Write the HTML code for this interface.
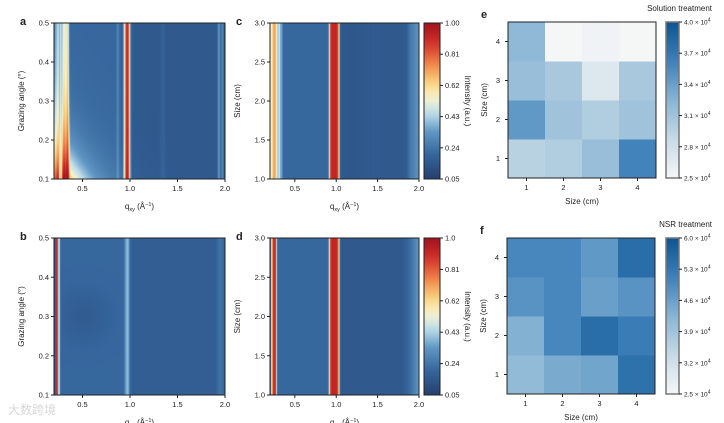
<!DOCTYPE html>
<html><head><meta charset="utf-8"><style>
body{margin:0;background:#fff;width:724px;height:423px;position:relative;overflow:hidden;font-family:"Liberation Sans","Noto Sans CJK SC",sans-serif}
canvas{position:absolute}
svg{position:absolute;left:0;top:0}
text{font-family:"Liberation Sans","Noto Sans CJK SC",sans-serif;fill:#222}
</style></head><body>
<canvas id="ca" style="left:54px;top:23px" width="171" height="156"></canvas>
<canvas id="cb" style="left:54px;top:238px" width="171" height="157"></canvas>
<canvas id="cc" style="left:270px;top:23px" width="149" height="156"></canvas>
<canvas id="cd" style="left:270px;top:238px" width="149" height="157"></canvas>
<svg id="s" width="724" height="423"></svg>
<script>
// ---- data ----
const profA_q=[0.2,0.22,0.24,0.25,0.26,0.28,0.3,0.32,0.34,0.36,0.4,0.6,0.85,0.87,0.89,0.92,0.94,0.96,0.98,1.0,1.01,1.03,1.3,1.36,1.38,1.6,1.92,1.94,1.96,1.98,2.0];
const profA_v=[0.3,0.35,0.45,0.3,0.5,0.35,0.55,0.45,0.6,0.2,0.2,0.2,0.2,0.3,0.2,0.18,0.5,0.9,0.9,0.45,0.2,0.15,0.15,0.19,0.15,0.15,0.15,0.35,0.2,0.3,0.15];
const profB_q=[0.2,0.21,0.22,0.23,0.24,0.25,0.26,0.28,0.5,0.93,0.96,0.98,1.0,1.03,1.5,1.9,1.95,2.0];
const profB_v=[0.12,0.15,0.9,0.95,0.4,0.55,0.2,0.2,0.2,0.2,0.38,0.4,0.2,0.17,0.17,0.17,0.24,0.2];
const profC_q=[0.2,0.22,0.23,0.26,0.27,0.28,0.29,0.3,0.31,0.32,0.33,0.34,0.36,0.5,0.9,0.915,0.93,0.95,1.0,1.02,1.035,1.05,1.2,1.4,1.45,1.6,1.8,1.85,1.9,2.0];
const profC_v=[0.55,0.55,0.7,0.7,0.55,0.5,0.35,0.45,0.5,0.35,0.4,0.3,0.2,0.2,0.2,0.45,0.85,0.92,0.92,0.85,0.5,0.15,0.14,0.15,0.16,0.15,0.15,0.17,0.25,0.33];
const profD_q=[0.2,0.21,0.22,0.23,0.26,0.27,0.28,0.3,0.5,0.9,0.915,0.93,0.95,1.0,1.02,1.035,1.05,1.4,1.8,1.9,2.0];
const profD_v=[0.15,0.55,0.6,0.9,0.9,0.55,0.22,0.2,0.2,0.2,0.5,0.85,0.92,0.92,0.85,0.5,0.15,0.15,0.15,0.22,0.33];
const cbTicks=["1.00","0.81","0.62","0.43","0.24","0.05"];
const cbTicksD=["1.0","0.81","0.62","0.43","0.24","0.05"];
const eVals=[[2.95,3.0,3.15,3.6],[3.45,3.1,3.0,3.1],[3.15,3.05,2.7,3.05],[3.2,2.5,2.55,2.5]]; // rows: size 1..4 (x1e4)
const fVals=[[4.1,4.4,4.5,5.4],[4.3,5.0,5.5,5.2],[4.8,5.0,4.6,4.8],[5.0,5.0,4.7,5.5]];
const eTicks=["4.0","3.7","3.4","3.1","2.8","2.5"];
const fTicks=["6.0","5.3","4.6","3.9","3.2","2.5"];
const xTicksQ=[0.5,1.0,1.5,2.0];
const yTicksAng=[0.1,0.2,0.3,0.4,0.5];
const yTicksSize=[1.0,1.5,2.0,2.5,3.0];
// ---- colormaps ----
const rdyl=[[0,[38,64,110]],[0.15,[52,100,155]],[0.3,[95,150,195]],[0.42,[190,222,235]],[0.52,[248,243,205]],[0.62,[250,210,125]],[0.75,[238,125,70]],[0.88,[205,45,40]],[1,[160,20,30]]];
const blues=[[0,[245,247,247]],[0.25,[198,218,230]],[0.5,[135,180,212]],[0.75,[62,128,185]],[1,[12,85,145]]];
function cmap(m,t){t=Math.max(0,Math.min(1,t));for(let i=1;i<m.length;i++){if(t<=m[i][0]){const a=m[i-1],b=m[i],f=(t-a[0])/(b[0]-a[0]);return a[1].map((c,k)=>Math.round(c+(b[1][k]-c)*f));}}return m[m.length-1][1];}
function interp(qs,vs,q){if(q<=qs[0])return vs[0];for(let i=1;i<qs.length;i++)if(q<=qs[i]){const f=(q-qs[i-1])/(qs[i]-qs[i-1]);return vs[i-1]+(vs[i]-vs[i-1])*f;}return vs[vs.length-1];}
function norm(v){return (v-0.05)/0.95;}
function paint(id,qs,vs,extra){const c=document.getElementById(id),g=c.getContext('2d'),W=c.width,H=c.height,im=g.createImageData(W,H);
 for(let x=0;x<W;x++){const q=0.2+1.8*x/(W-1);const b=interp(qs,vs,q);
  for(let y=0;y<H;y++){const a=0.5-0.4*y/(H-1);let v=b+(extra?extra(q,a):0);const col=cmap(rdyl,norm(v));const i=(y*W+x)*4;im.data[i]=col[0];im.data[i+1]=col[1];im.data[i+2]=col[2];im.data[i+3]=255;}}
 g.putImageData(im,0,0);}
paint('ca',profA_q,profA_v,(q,a)=>{let e=0;if(q<0.36){e=0.5*Math.exp(-(a-0.1)/0.13);if(q>0.25&&q<0.28)e*=0.4;}else e=0.45*Math.exp(-(a-0.1)/0.08)*Math.exp(-(q-0.36)/0.24);return e;});
paint('cb',profB_q,profB_v,(q,a)=>(q>0.28&&q<0.9)?-0.04*Math.exp(-Math.pow((a-0.3)/0.06,2))*Math.exp(-Math.pow((q-0.5)/0.25,2)):0);
paint('cc',profC_q,profC_v,null);
paint('cd',profD_q,profD_v,null);
// ---- svg ----
const S=document.getElementById('s'),NS='http://www.w3.org/2000/svg';
function el(t,at,txt){const e=document.createElementNS(NS,t);for(const k in at)e.setAttribute(k,at[k]);if(txt!==undefined)e.textContent=txt;S.appendChild(e);return e;}
const defs=el('defs',{});
function grad(id,m){const g=document.createElementNS(NS,'linearGradient');g.setAttribute('id',id);g.setAttribute('x1','0');g.setAttribute('y1','1');g.setAttribute('x2','0');g.setAttribute('y2','0');
 for(let i=0;i<=20;i++){const s=document.createElementNS(NS,'stop');s.setAttribute('offset',i/20);s.setAttribute('stop-color','rgb('+cmap(m,i/20).join(',')+')');g.appendChild(s);}defs.appendChild(g);}
grad('gr',rdyl);grad('gb',blues);
function axes(x0,y0,w,h,letter,yt,ylab,ymin,ymax,xlab){
 let r=el('rect',{x:x0,y:y0,width:w,height:h,fill:'none',stroke:'#222','stroke-width':1});
 
 let t=el('text',{x:x0-34,y:y0+2,'font-size':11,'font-weight':'bold'},letter);
 xTicksQ.forEach(q=>{const x=x0+(q-0.2)/1.8*w;el('line',{x1:x,x2:x,y1:y0+h,y2:y0+h+3,stroke:'#222'});const tt=el('text',{x:x,y:y0+h+12,'font-size':7.5,'text-anchor':'middle'},q.toFixed(1));});
 yt.forEach(v=>{const y=y0+h-(v-ymin)/(ymax-ymin)*h;el('line',{x1:x0-3,x2:x0,y1:y,y2:y,stroke:'#222'});const tt=el('text',{x:x0-5,y:y+2.5,'font-size':7.5,'text-anchor':'end'},v.toFixed(1));});
 const yl=el('text',{x:0,y:0,'font-size':8,'text-anchor':'middle',transform:`translate(${x0-30},${y0+h/2}) rotate(-90)`},ylab);
 const xl=el('text',{x:x0+w/2,y:y0+h+30,'font-size':8,'text-anchor':'middle'});
 xl.innerHTML='q<tspan font-size="5.5" dy="2">xy</tspan><tspan dy="-2"> (Å</tspan><tspan font-size="5.5" dy="-3">−1</tspan><tspan dy="3">)</tspan>';
}
axes(54,23,171,156,'a',yTicksAng,'Grazing angle (°)',0.1,0.5);
axes(54,238,171,157,'b',yTicksAng,'Grazing angle (°)',0.1,0.5);
axes(270,23,149,156,'c',yTicksSize,'Size (cm)',1,3);
axes(270,238,149,157,'d',yTicksSize,'Size (cm)',1,3);
function cbar(x,y,w,h,gid,ticks,label,sci){
 const r=el('rect',{x:x,y:y,width:w,height:h,fill:`url(#${gid})`,stroke:sci?'#777':'#222','stroke-width':sci?1.5:1});
 ticks.forEach((t,i)=>{const yy=y+i*h/(ticks.length-1);el('line',{x1:x+w,x2:x+w+3,y1:yy,y2:yy,stroke:'#222'});
  const tt=el('text',{x:x+w+5,y:yy+2.5,'font-size':sci?6.5:7.5});
  if(sci)tt.innerHTML=t+' × 10<tspan font-size="5" dy="-3">4</tspan>';else tt.textContent=t;});
 if(label){const l=el('text',{x:0,y:0,'font-size':8,'text-anchor':'middle',transform:`translate(${x+w+25},${y+h/2}) rotate(90)`},label);}
}
cbar(424,23,16,156,'gr',cbTicks,'Intensity (a.u.)',false);
cbar(424,238,16,157,'gr',cbTicksD,'Intensity (a.u.)',false);
function grid(x0,y0,w,h,vals,vmin,vmax,letter,title){
 const cw=w/4,ch=h/4;
 vals.forEach((row,ri)=>row.forEach((v,ci)=>{const col=cmap(blues,(v-vmin)/(vmax-vmin));const r=el('rect',{x:x0+ci*cw,y:y0+h-(ri+1)*ch,width:cw+0.5,height:ch+0.5,fill:'rgb('+col.join(',')+')'});}));
 el('rect',{x:x0,y:y0,width:w,height:h,fill:'none',stroke:'#222'});
 for(let i=0;i<4;i++){const x=x0+cw*(i+0.5),y=y0+h-ch*(i+0.5);
  el('line',{x1:x,x2:x,y1:y0+h,y2:y0+h+3,stroke:'#222'});const a=el('text',{x:x,y:y0+h+12,'font-size':7.5,'text-anchor':'middle'},i+1);
  el('line',{x1:x0-3,x2:x0,y1:y,y2:y,stroke:'#222'});const b=el('text',{x:x0-8,y:y+2.5,'font-size':7.5,'text-anchor':'end'},i+1);}
 const xl=el('text',{x:x0+w/2,y:y0+h+26,'font-size':8,'text-anchor':'middle'},'Size (cm)');
 const yl=el('text',{x:0,y:0,'font-size':8,'text-anchor':'middle',transform:`translate(${x0-21},${y0+h/2}) rotate(-90)`},'Size (cm)');
 const L=el('text',{x:x0-27,y:y0-4,'font-size':11,'font-weight':'bold'},letter);
 const T=el('text',{x:712,y:y0-11,'font-size':8,'text-anchor':'end'},title);
}
grid(508,22,148,156,eVals,2.5,4.0,'e','Solution treatment');
grid(507,238,148,156,fVals,2.5,6.0,'f','NSR treatment');
cbar(666,22,13,156,'gb',eTicks,null,true);
cbar(666,238,13,156,'gb',fTicks,null,true);
const wm=el('text',{x:8,y:414,'font-size':12,style:'fill:#d8d8d8'},'大数跨境');
</script>
</body></html>
